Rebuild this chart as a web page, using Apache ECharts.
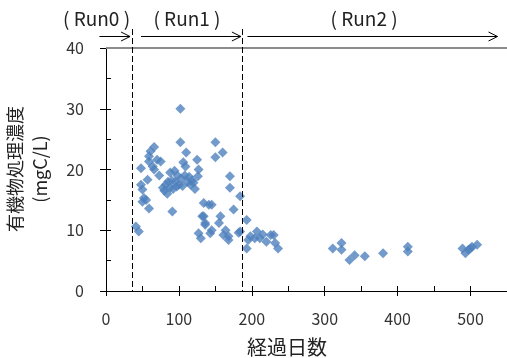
<!DOCTYPE html>
<html><head><meta charset="utf-8">
<script src="https://cdn.jsdelivr.net/npm/echarts@6/dist/echarts.min.js"></script>
<style>html,body{margin:0;padding:0;background:#fff}#c{width:507px;height:358px}</style>
</head><body><div id="c"></div>
<script>
const days = [41,45,48,48,50,50,52,55,57,59,59,59,61,64,66,66,70,73,75,78,80,82,84,85,88,88,90,91,92,94,95,97,98,100,102,102,103,105,106,108,109,110,112,114,116,118,120,122,125,126,127,127,130,132,134,134,136,136,141,143,145,145,150,150,155,157,160,161,164,168,168,170,170,175,182,
 184,184,193,193,195,198,204,207,211,215,220,226,230,232,236,311,323,323,334,341,355,380,414,414,489,493,497,500,502,509];
const values = [10.6,9.8,20.2,17.5,16.7,14.7,15.3,15,18.3,13.6,22.2,21.3,23,20.5,23.7,20,21.6,19,21.3,17,16.5,17.5,16,18,17,19.5,18.2,13.1,16.8,19.8,18,17.2,19,17.5,30,24.5,18.5,17.3,21.2,19,20.5,22.8,18,18.8,17.5,18.2,17.8,16.8,21.6,18.9,20,9.5,8.7,12.3,14.5,12.3,11.2,10.9,14.2,9.5,14.2,10,24.5,22,11.2,12.3,22.8,9.2,10,9,8.4,18.9,17,13.4,9.6,
 15.6,9.8,11.7,7,8.4,9,8.7,9.8,8.7,9.3,8.1,9.2,9.2,7.9,7,7,7.9,6.8,5.1,5.9,5.7,6.2,7.3,6.5,7,6.2,6.8,7,7.3,7.6];
const runBoundaries = [35, 186];
const runLabels = ['( Run0 )', '( Run1 )', '( Run2 )'];
const runLabelDays = [-13, 111, 354];
const arrowStarts = [-9, 48, 194];
const arrowEnds = [33, 185, 537];
const xTicks = [0, 100, 200, 300, 400, 500];
const yTicks = [0, 10, 20, 30, 40];

const font = '"Noto Sans CJK JP", "Noto Sans", sans-serif';
const chart = echarts.init(document.getElementById('c'));
const pts = days.map((d, i) => [d, values[i]]);
const axisCommon = {min: 0, axisLine: {show: true, lineStyle: {color: '#000', width: 1}}, splitLine: {show: false}};
chart.setOption({
  animation: false,
  grid: {left: 106, right: -3, top: 48, bottom: 67},
  title: {text: '経過日数', left: 282, top: 332, textAlign: 'center',
    textStyle: {fontFamily: font, fontSize: 20, fontWeight: 'normal', color: '#222'}},
  xAxis: [
    Object.assign({}, axisCommon, {type: 'value', max: 550, interval: 100,
      axisTick: {show: true, inside: false, length: 5, lineStyle: {color: '#000'}},
      axisLabel: {margin: 20, fontFamily: font, fontSize: 16, color: '#333', showMaxLabel: false,
        formatter: v => xTicks.indexOf(v) >= 0 ? String(v) : ''}}),
    Object.assign({}, axisCommon, {type: 'value', max: 550, interval: 50, position: 'bottom',
      axisLine: {show: false}, axisLabel: {show: false},
      axisTick: {show: true, inside: true, length: 5, lineStyle: {color: '#000'}}})
  ],
  yAxis: [
    Object.assign({}, axisCommon, {type: 'value', max: 40, interval: 10,
      axisTick: {show: true, inside: false, length: 6, lineStyle: {color: '#000'}},
      axisLabel: {margin: 22, fontFamily: font, fontSize: 16, color: '#333',
        formatter: v => yTicks.indexOf(v) >= 0 ? String(v) : ''}}),
    Object.assign({}, axisCommon, {type: 'value', max: 40, interval: 5, position: 'left',
      axisLine: {show: false}, axisLabel: {show: false},
      axisTick: {show: true, inside: true, length: 5, lineStyle: {color: '#000'}}})
  ],
  series: [{
    type: 'scatter', data: pts, symbol: 'diamond', symbolSize: [10, 10],
    itemStyle: {color: '#4F81BD'},
    markLine: {silent: true, symbol: 'none', label: {show: false},
      lineStyle: {color: '#8c8c8c', width: 2, type: 'solid'},
      data: [{yAxis: 40}]}
  }]
});

function px(d, v) { return chart.convertToPixel({gridIndex: 0}, [d, v]); }
const g = [];
const yBottom = px(0, 0)[1];
runBoundaries.forEach(d => {
  const x = Math.round(px(d, 0)[0]) + 0.5;
  g.push({type: 'line', shape: {x1: x, y1: 29, x2: x, y2: yBottom}, style: {stroke: '#000', lineWidth: 1, lineDash: [6, 3]}, z: 10});
});
const arrowY = 36.5;
arrowStarts.forEach((s, i) => {
  const x1 = px(s, 0)[0], x2 = px(arrowEnds[i], 0)[0];
  g.push({type: 'line', shape: {x1: x1, y1: arrowY, x2: x2, y2: arrowY}, style: {stroke: '#000', lineWidth: 1}, z: 10});
  g.push({type: 'polyline', shape: {points: [[x2 - 9, arrowY - 4.5], [x2, arrowY], [x2 - 9, arrowY + 4.5]]}, style: {stroke: '#000', lineWidth: 1, fill: null}, z: 10});
});
runLabels.forEach((t, i) => {
  g.push({type: 'text', x: px(runLabelDays[i], 0)[0], y: 19, style: {text: t, fontFamily: font, fontSize: 19, fill: '#222', textAlign: 'center', textVerticalAlign: 'middle'}, z: 10});
});
g.push({type: 'text', x: 28, y: 169, rotation: Math.PI / 2,
  style: {text: '有機物処理濃度\n(mgC/L)', fontFamily: font, fontSize: 18, lineHeight: 25, fill: '#222', textAlign: 'center', textVerticalAlign: 'middle'}});
chart.setOption({graphic: g});
</script></body></html>
